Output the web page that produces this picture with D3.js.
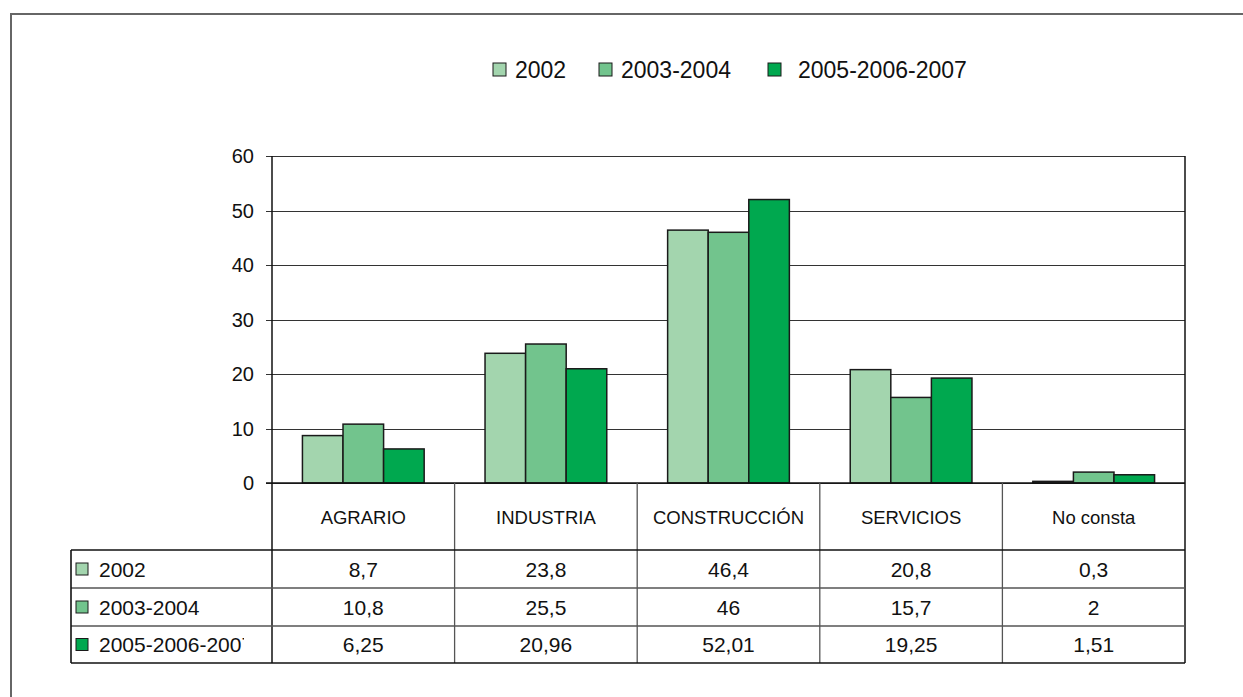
<!DOCTYPE html>
<html>
<head>
<meta charset="utf-8">
<script src="https://cdn.jsdelivr.net/npm/d3@7"></script>
<style>
  body { margin: 0; background: #fff; }
  text { font-family: "Liberation Sans", Arial, sans-serif; fill: #111; }
</style>
</head>
<body>
<div id="chart"></div>
<script>
var width = 1243,
    height = 697;

// data
var categories = ["AGRARIO", "INDUSTRIA", "CONSTRUCCIÓN", "SERVICIOS", "No consta"];
var seriesNames = ["2002", "2003-2004", "2005-2006-2007"];
var values2002 = [8.7, 23.8, 46.4, 20.8, 0.3];
var values2003 = [10.8, 25.5, 46, 15.7, 2];
var values2005 = [6.25, 20.96, 52.01, 19.25, 1.51];
var valueLabels = [
    ["8,7", "23,8", "46,4", "20,8", "0,3"],
    ["10,8", "25,5", "46", "15,7", "2"],
    ["6,25", "20,96", "52,01", "19,25", "1,51"]
];
var yTicks = [0, 10, 20, 30, 40, 50, 60];
var colors = ["#a3d5ae", "#72c48d", "#00a84f"];

var series = [values2002, values2003, values2005];

var margin = { left: 272, right: 1185, top: 156, bottom: 483 };

var svg = d3.select("#chart").append("svg")
    .attr("width", width)
    .attr("height", height);

// outer frame
svg.append("path")
    .attr("d", "M11,697 V14 H1243")
    .attr("fill", "none")
    .attr("stroke", "#666")
    .attr("stroke-width", 2);

var x = d3.scaleBand()
    .domain(categories)
    .range([margin.left, margin.right]);

var x1 = d3.scaleBand()
    .domain(seriesNames)
    .range([x.bandwidth() / 6, x.bandwidth() * 5 / 6]);

var y = d3.scaleLinear()
    .domain([0, 60])
    .range([margin.bottom, margin.top]);

// gridlines
svg.append("g")
    .selectAll("line")
    .data(yTicks)
    .enter().append("line")
    .attr("x1", margin.left - 6)
    .attr("x2", margin.right)
    .attr("y1", function (d) { return Math.round(y(d)) + 0.5; })
    .attr("y2", function (d) { return Math.round(y(d)) + 0.5; })
    .attr("stroke", "#333")
    .attr("stroke-width", 1.2);

// y labels
svg.append("g")
    .selectAll("text")
    .data(yTicks)
    .enter().append("text")
    .attr("x", 254)
    .attr("y", function (d) { return y(d); })
    .attr("dy", "0.36em")
    .attr("text-anchor", "end")
    .style("font-size", "20px")
    .text(function (d) { return d; });

// bars
var groups = svg.append("g")
    .selectAll("g")
    .data(categories)
    .enter().append("g")
    .attr("transform", function (d) { return "translate(" + x(d) + ",0)"; });

groups.selectAll("rect")
    .data(function (d, i) {
        return seriesNames.map(function (s, j) { return { key: s, value: series[j][i], j: j }; });
    })
    .enter().append("rect")
    .attr("x", function (d) { return x1(d.key); })
    .attr("y", function (d) { return y(d.value); })
    .attr("width", x1.bandwidth())
    .attr("height", function (d) { return y(0) - y(d.value); })
    .attr("fill", function (d) { return colors[d.j]; })
    .attr("stroke", "#1a1a1a")
    .attr("stroke-width", 1.5);

// y axis and baseline
svg.append("line")
    .attr("x1", margin.left).attr("x2", margin.left)
    .attr("y1", margin.top).attr("y2", 663)
    .attr("stroke", "#111").attr("stroke-width", 1.5);
svg.append("line")
    .attr("x1", margin.left - 6).attr("x2", margin.right)
    .attr("y1", margin.bottom).attr("y2", margin.bottom)
    .attr("stroke", "#111").attr("stroke-width", 1.5);
svg.append("line")
    .attr("x1", margin.right).attr("x2", margin.right)
    .attr("y1", margin.top).attr("y2", 663)
    .attr("stroke", "#111").attr("stroke-width", 1.5);

// table
var rowY = [550, 588, 626, 663];
var tableLeft = 71;

svg.append("g")
    .selectAll("line")
    .data(categories.slice(1))
    .enter().append("line")
    .attr("x1", function (d) { return x(d); })
    .attr("x2", function (d) { return x(d); })
    .attr("y1", margin.bottom)
    .attr("y2", rowY[3])
    .attr("stroke", "#555")
    .attr("stroke-width", 1.3);

svg.append("g")
    .selectAll("line")
    .data(rowY)
    .enter().append("line")
    .attr("x1", tableLeft)
    .attr("x2", margin.right)
    .attr("y1", function (d) { return d; })
    .attr("y2", function (d) { return d; })
    .attr("stroke", function (d, i) { return i === 0 || i === 3 ? "#111" : "#555"; })
    .attr("stroke-width", function (d, i) { return i === 0 || i === 3 ? 1.6 : 1.3; });

svg.append("line")
    .attr("x1", tableLeft).attr("x2", tableLeft)
    .attr("y1", rowY[0]).attr("y2", rowY[3])
    .attr("stroke", "#111").attr("stroke-width", 1.6);

// header labels
svg.append("g")
    .selectAll("text")
    .data(categories)
    .enter().append("text")
    .attr("x", function (d) { return x(d) + x.bandwidth() / 2; })
    .attr("y", 517)
    .attr("dy", "0.36em")
    .attr("text-anchor", "middle")
    .style("font-size", "18.5px")
    .text(function (d) { return d; });

// clip for the row labels (local coords of each row group)
svg.append("defs").append("clipPath")
    .attr("id", "rowclip")
    .append("rect")
    .attr("x", tableLeft).attr("y", -20)
    .attr("width", 244 - tableLeft).attr("height", 40);

var rows = svg.append("g")
    .selectAll("g")
    .data(seriesNames)
    .enter().append("g")
    .attr("transform", function (d, i) { return "translate(0," + ((rowY[i] + rowY[i + 1]) / 2) + ")"; });

rows.append("rect")
    .attr("x", 76).attr("y", -6)
    .attr("width", 12).attr("height", 12)
    .attr("fill", function (d, i) { return colors[i]; })
    .attr("stroke", "#1a1a1a").attr("stroke-width", 1);

rows.append("text")
    .attr("x", 99)
    .attr("dy", "0.36em")
    .attr("clip-path", "url(#rowclip)")
    .style("font-size", "21px")
    .text(function (d) { return d; });

rows.each(function (s, i) {
    d3.select(this).selectAll("text.val")
        .data(categories)
        .enter().append("text")
        .attr("class", "val")
        .attr("x", function (d) { return x(d) + x.bandwidth() / 2; })
        .attr("dy", "0.36em")
        .attr("text-anchor", "middle")
        .style("font-size", "21px")
        .text(function (d, k) { return valueLabels[i][k]; });
});

// legend
var legendX = [493, 599, 768];
var legend = svg.append("g")
    .selectAll("g")
    .data(seriesNames)
    .enter().append("g")
    .attr("transform", function (d, i) { return "translate(" + legendX[i] + ",70)"; });

legend.append("rect")
    .attr("x", 0).attr("y", -7)
    .attr("width", 13).attr("height", 13)
    .attr("fill", function (d, i) { return colors[i]; })
    .attr("stroke", "#1a1a1a").attr("stroke-width", 1);

legend.append("text")
    .attr("x", function (d, i) { return i === 2 ? 30 : 22; })
    .attr("dy", "0.36em")
    .style("font-size", "23px")
    .text(function (d) { return d; });
</script>
</body>
</html>
